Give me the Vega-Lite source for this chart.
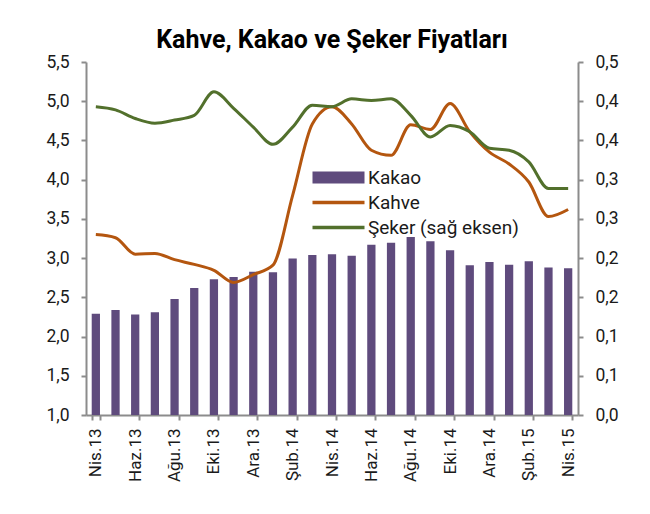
{
  "$schema": "https://vega.github.io/schema/vega-lite/v6.json",
  "width": 492,
  "height": 353,
  "autosize": {"type": "none"},
  "padding": {"left": 86, "top": 62, "right": 72, "bottom": 99},
  "background": "white",
  "config": {"font": "Roboto", "view": {"stroke": null}},
  "title": {"text": "Kahve, Kakao ve Şeker Fiyatları", "fontSize": 25, "fontWeight": "bold", "font": "Roboto", "anchor": "middle", "offset": 0, "color": "#000000"},
  "data": {"values": [
    {"ay": "Nis.13", "kakao": 2.29, "kahve": 3.30, "seker": 0.393},
    {"ay": "May.13", "kakao": 2.34, "kahve": 3.26, "seker": 0.389},
    {"ay": "Haz.13", "kakao": 2.28, "kahve": 3.05, "seker": 0.378},
    {"ay": "Tem.13", "kakao": 2.31, "kahve": 3.06, "seker": 0.372},
    {"ay": "Ağu.13", "kakao": 2.48, "kahve": 2.98, "seker": 0.376},
    {"ay": "Eyl.13", "kakao": 2.62, "kahve": 2.92, "seker": 0.382},
    {"ay": "Eki.13", "kakao": 2.73, "kahve": 2.845, "seker": 0.412},
    {"ay": "Kas.13", "kakao": 2.76, "kahve": 2.69, "seker": 0.391},
    {"ay": "Ara.13", "kakao": 2.825, "kahve": 2.79, "seker": 0.367},
    {"ay": "Oca.14", "kakao": 2.82, "kahve": 2.91, "seker": 0.345},
    {"ay": "Şub.14", "kakao": 2.995, "kahve": 3.80, "seker": 0.367},
    {"ay": "Mar.14", "kakao": 3.04, "kahve": 4.71, "seker": 0.395},
    {"ay": "Nis.14", "kakao": 3.05, "kahve": 4.93, "seker": 0.393},
    {"ay": "May.14", "kakao": 3.03, "kahve": 4.71, "seker": 0.403},
    {"ay": "Haz.14", "kakao": 3.17, "kahve": 4.375, "seker": 0.401},
    {"ay": "Tem.14", "kakao": 3.195, "kahve": 4.31, "seker": 0.403},
    {"ay": "Ağu.14", "kakao": 3.27, "kahve": 4.70, "seker": 0.382},
    {"ay": "Eyl.14", "kakao": 3.215, "kahve": 4.64, "seker": 0.3545},
    {"ay": "Eki.14", "kakao": 3.10, "kahve": 4.97, "seker": 0.369},
    {"ay": "Kas.14", "kakao": 2.91, "kahve": 4.61, "seker": 0.361},
    {"ay": "Ara.14", "kakao": 2.95, "kahve": 4.35, "seker": 0.340},
    {"ay": "Oca.15", "kakao": 2.915, "kahve": 4.20, "seker": 0.3375},
    {"ay": "Şub.15", "kakao": 2.96, "kahve": 3.97, "seker": 0.3226},
    {"ay": "Mar.15", "kakao": 2.88, "kahve": 3.53, "seker": 0.2887},
    {"ay": "Nis.15", "kakao": 2.87, "kahve": 3.62, "seker": 0.2887}
  ]},
  "encoding": {
    "x": {
      "field": "ay", "type": "ordinal", "sort": null,
      "scale": {"paddingInner": 0.58, "paddingOuter": 0.29},
      "axis": {
        "title": null,
        "values": ["Nis.13", "Haz.13", "Ağu.13", "Eki.13", "Ara.13", "Şub.14", "Nis.14", "Haz.14", "Ağu.14", "Eki.14", "Ara.14", "Şub.15", "Nis.15"],
        "tickBand": "extent",
        "labelAngle": 270,
        "labelAlign": "right",
        "labelBaseline": "middle",
        "labelPadding": 8,
        "labelFontSize": 17,
        "labelColor": "#1a1a1a",
        "labelOverlap": false,
        "domainColor": "#8c8c8c",
        "domainWidth": 2,
        "tickColor": "#8c8c8c",
        "tickWidth": 2,
        "tickSize": 5,
        "grid": false
      }
    }
  },
  "layer": [
    {
      "encoding": {
        "y": {
          "type": "quantitative",
          "scale": {"domain": [1, 5.5], "zero": false, "nice": false},
          "axis": {
            "title": null,
            "values": [1, 1.5, 2, 2.5, 3, 3.5, 4, 4.5, 5, 5.5],
            "labelExpr": "replace(format(datum.value, '.1f'), '.', ',')",
            "labelFontSize": 17.5,
            "labelColor": "#1a1a1a",
            "labelPadding": 12,
            "labelOverlap": false,
            "labelFlush": false,
            "domainColor": "#8c8c8c",
            "domainWidth": 2,
            "tickColor": "#8c8c8c",
            "tickWidth": 2,
            "tickSize": 5,
            "grid": false
          }
        }
      },
      "layer": [
        {
          "mark": {"type": "bar", "color": "#5F4B7D"},
          "encoding": {
            "y": {"field": "kakao"},
            "y2": {"datum": 1},
            "color": {
              "datum": "Kakao", "type": "nominal",
              "scale": {"domain": ["Kakao", "Kahve", "Şeker (sağ eksen)"], "range": ["#5F4B7D", "#B4560F", "#52702C"]},
              "legend": {
                "title": null,
                "orient": "none",
                "legendX": 243,
                "legendY": 106,
                "direction": "vertical",
                "labelFontSize": 19,
                "labelColor": "#1a1a1a",
                "symbolSize": 400,
                "labelOffset": 20,
                "rowPadding": 5,
                "padding": 0,
                "encode": {
                  "symbols": {
                    "update": {
                      "shape": {"signal": "datum.value === 'Kakao' ? 'M-2.6,-0.6H2.6V0.6H-2.6Z' : 'M-2.6,0H2.6'"},
                      "fill": {"signal": "datum.value === 'Kakao' ? '#5F4B7D' : 'transparent'"},
                      "stroke": {"signal": "datum.value === 'Kakao' ? '#5F4B7D' : (datum.value === 'Kahve' ? '#B4560F' : '#52702C')"},
                      "strokeWidth": {"signal": "datum.value === 'Kakao' ? 0 : 3.5"},
                      "opacity": {"value": 1}
                    }
                  }
                }
              }
            }
          }
        },
        {
          "mark": {"type": "line", "interpolate": "monotone", "strokeWidth": 3},
          "encoding": {
            "y": {"field": "kahve"},
            "color": {"datum": "Kahve", "type": "nominal"}
          }
        }
      ]
    },
    {
      "mark": {"type": "line", "interpolate": "monotone", "strokeWidth": 3},
      "encoding": {
        "y": {
          "field": "seker", "type": "quantitative",
          "scale": {"domain": [0, 0.45], "nice": false},
          "axis": {
            "orient": "right",
            "title": null,
            "values": [0, 0.05, 0.1, 0.15, 0.2, 0.25, 0.3, 0.35, 0.4, 0.45],
            "labelExpr": "replace(format(round(datum.value * 10 + 0.000001) / 10, '.1f'), '.', ',')",
            "labelFontSize": 17.5,
            "labelColor": "#1a1a1a",
            "labelPadding": 12,
            "labelOverlap": false,
            "labelFlush": false,
            "domainColor": "#8c8c8c",
            "domainWidth": 2,
            "tickColor": "#8c8c8c",
            "tickWidth": 2,
            "tickSize": 5,
            "grid": false
          }
        },
        "color": {"datum": "Şeker (sağ eksen)", "type": "nominal"}
      }
    }
  ],
  "resolve": {"scale": {"y": "independent"}}
}
